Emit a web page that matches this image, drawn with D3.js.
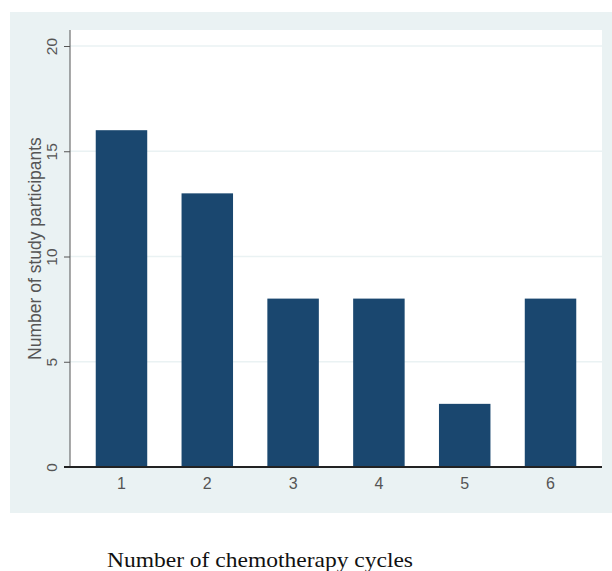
<!DOCTYPE html>
<html><head><meta charset="utf-8">
<script src="https://cdn.jsdelivr.net/npm/d3@7"></script>
<style>body{margin:0;background:#fff}svg{display:block}</style>
</head><body>
<svg id="c" width="612" height="571"></svg>
<script>
const categories = ["1","2","3","4","5","6"];
const values = [16, 13, 8, 8, 3, 8];
const yTicks = [0, 5, 10, 15, 20];
const xTitle = "Number of chemotherapy cycles";
const yTitle = "Number of study participants";

(function () {
const svg = d3.select("#c");
const pL = 70, pR = 602, pT = 30, pB = 467;

svg.append("rect").attr("x", 10).attr("y", 12).attr("width", 602).attr("height", 501).attr("fill", "#eaf2f3");
svg.append("rect").attr("x", pL).attr("y", pT).attr("width", pR - pL).attr("height", pB - pT).attr("fill", "#ffffff");

const x = d3.scaleBand().domain(categories).range([pL, pR]).paddingInner(0.4).paddingOuter(0.3);
const y = d3.scaleLinear().domain([0, 20]).range([pB, 46]);

// gridlines
svg.append("g").selectAll("line").data(yTicks.filter(d => d > 0)).join("line")
  .attr("x1", pL).attr("x2", pR).attr("y1", d => y(d)).attr("y2", d => y(d))
  .attr("stroke", "#eaf2f3").attr("stroke-width", 1.5);

// bars
svg.append("g").selectAll("rect").data(values).join("rect")
  .attr("x", (d, i) => x(categories[i])).attr("width", x.bandwidth())
  .attr("y", d => y(d)).attr("height", d => y(0) - y(d))
  .attr("fill", "#1a476f");

// y axis
const ya = svg.append("g").attr("transform", `translate(${pL},0)`)
  .call(d3.axisLeft(y).tickValues(yTicks).tickSize(6).tickPadding(5).tickSizeOuter(0));
ya.select(".domain").attr("stroke", "#555").attr("d", `M0,${pT}V${pB}`);
ya.selectAll(".tick line").attr("stroke", "#555");
ya.selectAll(".tick text")
  .attr("transform", "rotate(-90)").attr("x", 0).attr("y", -13).attr("dy", "0")
  .attr("text-anchor", "middle")
  .attr("font-family", "Liberation Sans, Arial, sans-serif").attr("font-size", 15.5).attr("fill", "#555");

// x axis
const xa = svg.append("g").attr("transform", `translate(0,${pB})`)
  .call(d3.axisBottom(x).tickSize(0).tickPadding(11));
xa.select(".domain").attr("stroke", "#222").attr("stroke-width", 2).attr("d", `M64,0H${pR}`);
xa.selectAll(".tick text")
  .attr("font-family", "Liberation Sans, Arial, sans-serif").attr("font-size", 16).attr("fill", "#555");

// y title
svg.append("text").attr("transform", `translate(41,${(pT + pB) / 2}) rotate(-90)`)
  .attr("text-anchor", "middle").attr("font-family", "Liberation Sans, Arial, sans-serif")
  .attr("font-size", 17.5).attr("fill", "#555").text(yTitle);

// x title
svg.append("text").attr("x", 260).attr("y", 567).attr("text-anchor", "middle")
  .attr("font-family", "Liberation Serif, Times New Roman, serif").attr("font-size", 22)
  .attr("textLength", 306).attr("lengthAdjust", "spacingAndGlyphs")
  .attr("fill", "#111").text(xTitle);
})();
</script>
</body></html>
